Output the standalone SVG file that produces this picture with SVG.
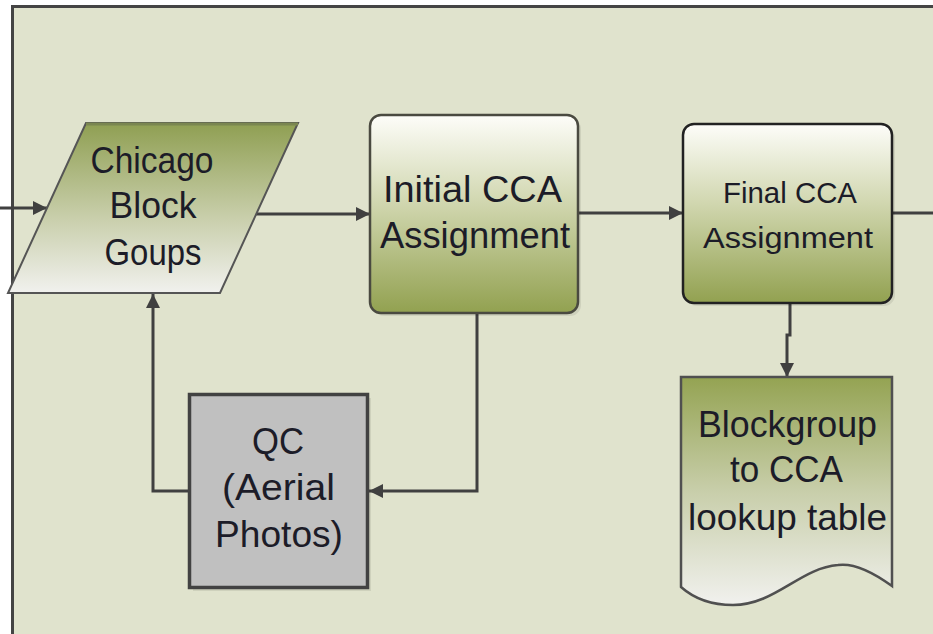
<svg xmlns="http://www.w3.org/2000/svg" width="933" height="634" viewBox="0 0 933 634">
  <style>
    .lbl { font-family: "Liberation Sans", "DejaVu Sans", sans-serif; fill: #1c1c28; text-anchor: middle; }
    .conn { fill: none; stroke: #404040; stroke-width: 3; }
    .shadow { fill: #000; opacity: 0.08; }
  </style>
  <defs>
    <linearGradient id="gradUp" x1="0" y1="0" x2="0" y2="1">
      <stop offset="0" stop-color="#8f9f52"/>
      <stop offset="0.55" stop-color="#c8ceaa"/>
      <stop offset="1" stop-color="#f1f1ee"/>
    </linearGradient>
    <linearGradient id="gradDown" x1="0" y1="0" x2="0" y2="1">
      <stop offset="0" stop-color="#fdfdf9"/>
      <stop offset="0.45" stop-color="#d0d6ae"/>
      <stop offset="1" stop-color="#92a150"/>
    </linearGradient>
    <linearGradient id="gradDoc" x1="0" y1="0" x2="0" y2="1">
      <stop offset="0" stop-color="#94a352"/>
      <stop offset="0.5" stop-color="#c8ceaa"/>
      <stop offset="1" stop-color="#f1f1ee"/>
    </linearGradient>
    <marker id="arrow" viewBox="0 0 10 10" refX="10" refY="5" markerWidth="14" markerHeight="14" markerUnits="userSpaceOnUse" orient="auto">
      <path d="M0,0 L10,5 L0,10 z" fill="#404040"/>
    </marker>
  </defs>

  <!-- page and frame -->
  <rect x="0" y="0" width="933" height="634" fill="#ffffff"/>
  <rect x="12.5" y="6.5" width="1000" height="1000" fill="#e0e3cd" stroke="#444444" stroke-width="3"/>

  <!-- connectors -->
  <g id="connectors">
    <path class="conn" d="M0,208 L47,208" marker-end="url(#arrow)"/>
    <path class="conn" d="M256,214 L370,214" marker-end="url(#arrow)"/>
    <path class="conn" d="M578,213 L683,213" marker-end="url(#arrow)"/>
    <path class="conn" d="M892,213 L933,213"/>
    <path class="conn" d="M790,303 L790,335 L787,335 L787,377" marker-end="url(#arrow)"/>
    <path class="conn" d="M477,313 L477,491 L369,491" marker-end="url(#arrow)"/>
    <path class="conn" d="M189,491 L153,491 L153,294" marker-end="url(#arrow)"/>
  </g>

  <!-- input data: block groups -->
  <g id="chicago-block-groups">
    <polygon points="86,123 298,123 220,293 8,293" fill="url(#gradUp)" stroke="#555555" stroke-width="2"/>
    <line x1="86" y1="124" x2="298" y2="124" stroke="#7a8650" stroke-width="3"/>
    <text class="lbl" x="152" y="173" font-size="36" textLength="123" lengthAdjust="spacingAndGlyphs">Chicago</text>
    <text class="lbl" x="153" y="218" font-size="36" textLength="87" lengthAdjust="spacingAndGlyphs">Block</text>
    <text class="lbl" x="153" y="265" font-size="36" textLength="97" lengthAdjust="spacingAndGlyphs">Goups</text>
  </g>

  <!-- process: initial assignment -->
  <g id="initial-cca-assignment">
    <rect class="shadow" x="373" y="118" width="208" height="198" rx="11"/>
    <rect x="370" y="115" width="208" height="198" rx="11" fill="url(#gradDown)" stroke="#4a4a40" stroke-width="2.5"/>
    <text class="lbl" x="472.5" y="202" font-size="36" textLength="179" lengthAdjust="spacingAndGlyphs">Initial CCA</text>
    <text class="lbl" x="475" y="248" font-size="36" textLength="190" lengthAdjust="spacingAndGlyphs">Assignment</text>
  </g>

  <!-- process: final assignment -->
  <g id="final-cca-assignment">
    <rect class="shadow" x="686" y="127" width="209" height="179" rx="11"/>
    <rect x="683" y="124" width="209" height="179" rx="11" fill="url(#gradDown)" stroke="#222222" stroke-width="2.5"/>
    <text class="lbl" x="790" y="203" font-size="29" textLength="134" lengthAdjust="spacingAndGlyphs">Final CCA</text>
    <text class="lbl" x="788" y="248" font-size="29" textLength="170" lengthAdjust="spacingAndGlyphs">Assignment</text>
  </g>

  <!-- manual check -->
  <g id="qc-aerial-photos">
    <rect class="shadow" x="193" y="398" width="178" height="193"/>
    <rect x="189.5" y="394.5" width="178" height="193" fill="#c0c0c0" stroke="#424242" stroke-width="3.5"/>
    <text class="lbl" x="278" y="454" font-size="36" textLength="52" lengthAdjust="spacingAndGlyphs">QC</text>
    <text class="lbl" x="278.5" y="500" font-size="36" textLength="113" lengthAdjust="spacingAndGlyphs">(Aerial</text>
    <text class="lbl" x="279" y="547" font-size="36" textLength="128" lengthAdjust="spacingAndGlyphs">Photos)</text>
  </g>

  <!-- output document -->
  <g id="lookup-table">
    <path d="M681,377 L892,377 L892,586 C870,570 852,563 838,565 C800,568 775,605 733,605 C705,605 690,595 681,587 Z" fill="url(#gradDoc)" stroke="#505050" stroke-width="2.5"/>
    <text class="lbl" x="787.5" y="437" font-size="37" textLength="179" lengthAdjust="spacingAndGlyphs">Blockgroup</text>
    <text class="lbl" x="786.5" y="482" font-size="37" textLength="113" lengthAdjust="spacingAndGlyphs">to CCA</text>
    <text class="lbl" x="787.5" y="530" font-size="37" textLength="199" lengthAdjust="spacingAndGlyphs">lookup table</text>
  </g>
</svg>
